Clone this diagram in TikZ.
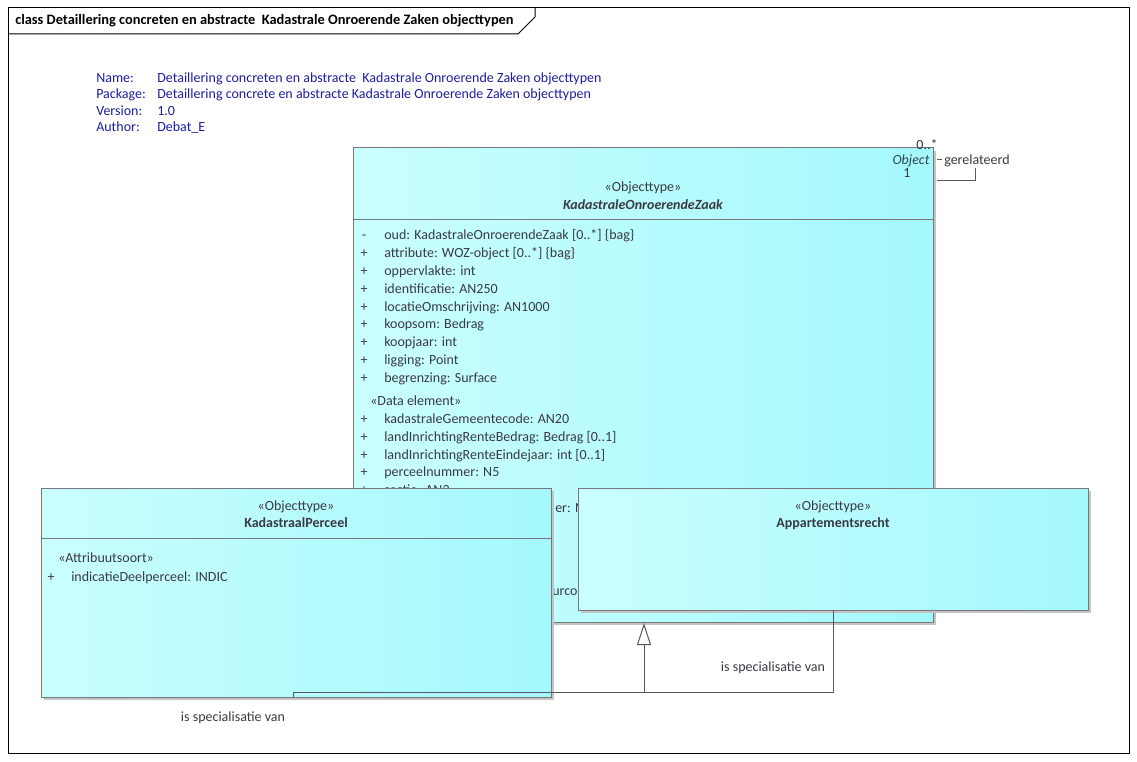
\documentclass[tikz,border=0pt]{standalone}
\usepackage{fontspec}
\setmainfont{Carlito}
\usepackage{tikz}
\usetikzlibrary{arrows.meta,shadows}
\definecolor{umllicht}{RGB}{202,255,255}
\definecolor{umldonker}{RGB}{164,248,252}
\definecolor{umlrand}{RGB}{120,120,124}
\definecolor{umlschaduw}{RGB}{196,196,196}
\definecolor{umltekst}{RGB}{58,58,66}
\definecolor{umllijn}{RGB}{88,88,100}
\definecolor{metablauw}{RGB}{30,30,160}

\begin{document}
\begin{tikzpicture}[x=0.75pt,y=-0.75pt,font=\fontsize{10.5}{12}\selectfont,
	klasse/.style={draw=umlrand,line width=0.75pt,left color=umllicht,right color=umldonker,
		inner sep=0pt,outer sep=0pt,anchor=north west,
		drop shadow={shadow xshift=2.25pt,shadow yshift=-2.25pt,fill=umlschaduw,opacity=1}},
	regel/.style={anchor=base west,inner sep=0pt,text=umltekst},
	midden/.style={anchor=base,inner sep=0pt,text=umltekst},
	lijn/.style={draw=umllijn,line width=0.75pt}]

%%%%%%%%%%%%%%%%%%%%%%%%%%%%%%%%%%%%%%%%%%%%%%%%%%%%%%%%%%%%%%%%%%%%%%%%%%%%%%%%%
%	Diagram frame with title tab and the model meta data					%
%%%%%%%%%%%%%%%%%%%%%%%%%%%%%%%%%%%%%%%%%%%%%%%%%%%%%%%%%%%%%%%%%%%%%%%%%%%%%%%%%
	\fill[white] (0,0) rectangle (1137,762);
	\useasboundingbox (0,0) rectangle (1137,762);
	\draw[black,line width=0.75pt] (8,8) rectangle (1129,753);
	\draw[black,line width=0.75pt] (8,34) -- (518,34) -- (535,17) -- (535,8);
	\node[anchor=base west,inner sep=0pt] (titel) at (15,25) {\fontsize{10.8}{12}\selectfont\bfseries class Detaillering concreten en abstracte\ \ Kadastrale Onroerende Zaken objecttypen};

	%Meta data: label / value, one line each
	\foreach \lab/\val [count=\i] in {Name:/Detaillering concreten en abstracte\ \ Kadastrale Onroerende Zaken objecttypen,
		Package:/Detaillering concrete en abstracte Kadastrale Onroerende Zaken objecttypen,
		Version:/1.0,Author:/Debat\_E}
	{
		\node[anchor=base west,inner sep=0pt,text=metablauw] (meta\i) at (96,{82.5+(\i-1)*16.3}) {\lab};
		\node[anchor=base west,inner sep=0pt,text=metablauw] (metaval\i) at (157,{82.5+(\i-1)*16.3}) {\val};
	}

%%%%%%%%%%%%%%%%%%%%%%%%%%%%%%%%%%%%%%%%%%%%%%%%%%%%%%%%%%%%%%%%%%%%%%%%%%%%%%%%%
%	KadastraleOnroerendeZaak (drawn first, the subtypes lie on top of it)		%
%%%%%%%%%%%%%%%%%%%%%%%%%%%%%%%%%%%%%%%%%%%%%%%%%%%%%%%%%%%%%%%%%%%%%%%%%%%%%%%%%
	\node[klasse,minimum width=580*0.75pt,minimum height=474*0.75pt] (kozaak) at (353,148) {};
	\draw[draw=umlrand,line width=0.75pt] (kozaak.north west) ++(0,72) -- ++(580,0);
	\node[midden] (kozaakst) at (643,191.5) {«Objecttype»};
	\node[midden] (kozaaknaam) at (643,209.5) {\bfseries\itshape KadastraleOnroerendeZaak};

	\foreach \vis/\attr [count=\i] in {-/oud: KadastraleOnroerendeZaak [0..*] \{bag\},
		+/attribute: WOZ-object [0..*] \{bag\},+/oppervlakte: int,+/identificatie: AN250,
		+/locatieOmschrijving: AN1000,+/koopsom: Bedrag,+/koopjaar: int,
		+/ligging: Point,+/begrenzing: Surface}
	{
		\node[midden] (kozaakv\i) at (364,{239.5+(\i-1)*17.9}) {\vis};
		\node[regel] (kozaaka\i) at (384,{239.5+(\i-1)*17.9}) {\attr};
	}
	\node[regel] (dataelement) at (370,405.5) {«Data element»};
	\foreach \attr [count=\i] in {kadastraleGemeentecode: AN20,landInrichtingRenteBedrag: Bedrag [0..1],
		landInrichtingRenteEindejaar: int [0..1],perceelnummer: N5,sectie: AN2}
	{
		\node[midden] (datav\i) at (364,{423.5+(\i-1)*17.8}) {+};
		\node[regel] (data\i) at (384,{423.5+(\i-1)*17.8}) {\attr};
	}
	%Fragments that stay visible between the two subtypes
	\node[regel] (restA) at (555,512.5) {er: N4};
	\node[regel] (restB) at (552,595.5) {urcode};

	%Self association gerelateerd
	\coordinate (zelfa) at (937,181);
	\coordinate (zelfb) at (975,168);
	\draw[lijn] (zelfa) -| (zelfb);
	\draw[lijn] (937,160) -- (942,160);
	\node[midden] (mult) at (927,150) {0..*};
	\node[midden,text=umltekst!80!teal] (rol) at (911,164.5) {\itshape Object};
	\node[midden] (multeen) at (907,178) {1};
	\node[regel] (gerel) at (944,165) {gerelateerd};

%%%%%%%%%%%%%%%%%%%%%%%%%%%%%%%%%%%%%%%%%%%%%%%%%%%%%%%%%%%%%%%%%%%%%%%%%%%%%%%%%
%	Subtypes KadastraalPerceel and Appartementsrecht					%
%%%%%%%%%%%%%%%%%%%%%%%%%%%%%%%%%%%%%%%%%%%%%%%%%%%%%%%%%%%%%%%%%%%%%%%%%%%%%%%%%
	\node[klasse,minimum width=510*0.75pt,minimum height=209*0.75pt] (perceel) at (41,488) {};
	\draw[draw=umlrand,line width=0.75pt] (perceel.north west) ++(0,50) -- ++(510,0);
	\node[midden] (perceelst) at (296,510.5) {«Objecttype»};
	\node[midden] (perceelnaam) at (296,527.5) {\bfseries KadastraalPerceel};
	\node[regel] (attrsoort) at (58,562.5) {«Attribuutsoort»};
	\node[midden] (perceelv) at (51,581.5) {+};
	\node[regel] (perceela) at (71,581.5) {indicatieDeelperceel: INDIC};

	\node[klasse,minimum width=510*0.75pt,minimum height=122*0.75pt] (recht) at (578,488) {};
	\node[midden] (rechtst) at (833,510.5) {«Objecttype»};
	\node[midden] (rechtnaam) at (833,527.5) {\bfseries Appartementsrecht};

	%Generalisations, both end in one open triangle
	\coordinate (perceelvoet) at (293,697);
	\coordinate (rechtvoet) at (833,610);
	\coordinate (genknik) at (644,692);
	\coordinate (gentop) at (644,623);
	\draw[lijn,-{Triangle[length=16.5pt,width=10.5pt,fill=white]}] (perceelvoet) |- (genknik) -- (gentop);
	\draw[lijn] (rechtvoet) |- (genknik);
	\node[midden] (spec1) at (233,721.5) {is specialisatie van};
	\node[midden] (spec2) at (773,671.5) {is specialisatie van};

\end{tikzpicture}
\end{document}
